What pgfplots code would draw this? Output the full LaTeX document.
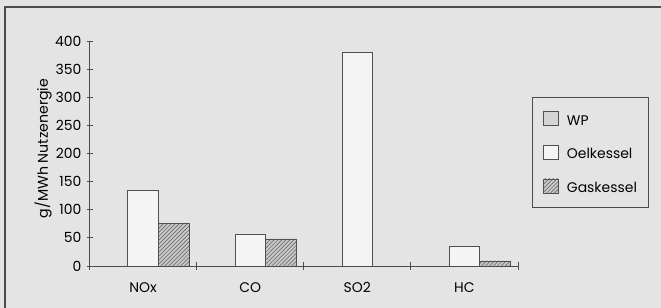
\documentclass[border=0pt]{standalone}
\usepackage{pgfplots}
\pgfplotsset{compat=1.18}
\usepackage{fontspec}
\setmainfont{Poppins}
\usetikzlibrary{patterns,patterns.meta}
\definecolor{bg}{HTML}{E4E4E4}
\definecolor{edge}{HTML}{505050}
\definecolor{wpc}{HTML}{D4D4D4}
\definecolor{oelc}{HTML}{F4F4F4}
\definecolor{gasc}{HTML}{C8C8C8}
\pgfplotsset{boxlegend/.style={legend image code/.code={\draw[##1] (0bp,-5.5bp) rectangle (15bp,8.5bp);}}}
\begin{document}
\begin{tikzpicture}
\path[use as bounding box] (0,0) rectangle (661bp,308bp);
\fill[bg] (-2bp,-2bp) rectangle (663bp,310bp);
\draw[black!70,line width=1.4bp] (5bp,-2bp) -- (5bp,301bp) -- (663bp,301bp);
\begin{axis}[
 at={(89.5bp,42bp)}, anchor=south west,
 scale only axis, width=428.5bp, height=225bp,
 xmin=-0.5, xmax=3.5, ymin=0, ymax=400,
 axis lines=left, axis line style={-, black!70, line width=0.8bp},
 ybar=0pt, bar width=30.7bp,
 xtick={0,1,2,3}, xticklabels={NOx,CO,SO2,HC},
 minor xtick={-0.5,0.5,1.5,2.5,3.5},
 major x tick style={draw=none},
 minor x tick style={black!70, line width=0.8bp},
 y tick style={black!70, line width=0.8bp},
 ytick={0,50,...,400},
 tick align=center, major tick length=6bp, minor tick length=7bp,
 /pgf/number format/assume math mode=true,
 ticklabel style={font=\fontsize{14}{14}\selectfont, inner sep=0pt},
 xticklabel style={text height=10bp, text depth=0pt, yshift=-13bp},
 yticklabel style={xshift=-5bp},
 ylabel={g/MWh Nutzenergie},
 ylabel style={at={(axis description cs:-0.1085,0.522)}, anchor=center, font=\fontsize{14.2}{14.2}\selectfont},
 legend style={at={(axis description cs:1.0327,0.751)}, anchor=north west,
   draw=black!70, fill=none, line width=0.6bp,
   font=\fontsize{14}{14}\selectfont,
   inner xsep=11bp, inner ysep=14bp, row sep=19bp, column sep=8bp,
   nodes={inner sep=0pt, text height=10bp, text depth=0pt}},
 legend cell align=left,
]
\addplot[fill=wpc, draw=edge, line width=0.6bp, boxlegend]
  coordinates {(0,0) (1,0) (2,0) (3,0)};
\addplot[fill=oelc, draw=edge, line width=0.6bp, boxlegend]
  coordinates {(0,135) (1,57) (2,380) (3,35)};
\addplot[fill=gasc, draw=edge, line width=0.6bp,
  postaction={pattern color=black!65, pattern={Lines[angle=45,distance=2.8bp,line width=0.5bp]}}, boxlegend]
  coordinates {(0,76) (1,48) (2,0) (3,9)};
\legend{WP,Oelkessel,Gaskessel}
\end{axis}
\end{tikzpicture}
\end{document}
